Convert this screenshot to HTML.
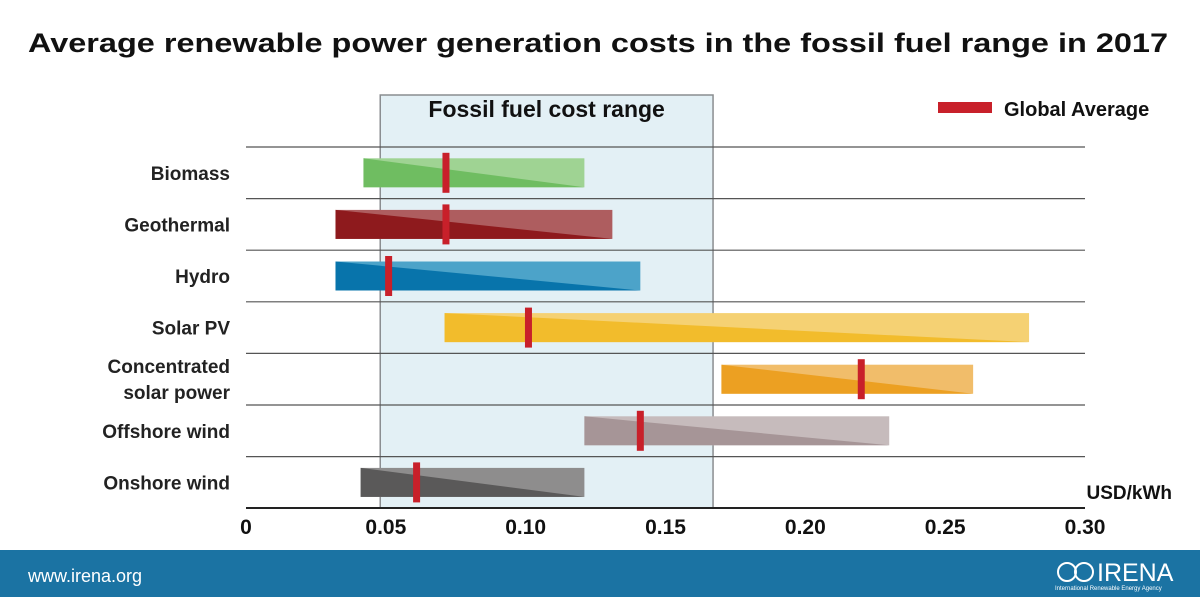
<!DOCTYPE html>
<html><head><meta charset="utf-8"><style>
body{margin:0;width:1200px;height:600px;background:#fff;overflow:hidden;font-family:"Liberation Sans",sans-serif}
svg text{font-family:"Liberation Sans",sans-serif}
</style></head><body>
<svg width="1200" height="600">
<text x="28" y="52" font-size="27" font-weight="bold" fill="#111" textLength="1140" lengthAdjust="spacingAndGlyphs">Average renewable power generation costs in the fossil fuel range in 2017</text>
<g id="plot"></g>
<rect x="0" y="550" width="1200" height="47" fill="#1b73a3"/>
<text x="28" y="582" font-size="18" fill="#fff">www.irena.org</text>
<g>
<circle cx="1067" cy="572" r="9" fill="none" stroke="#fff" stroke-width="2"/>
<circle cx="1084" cy="572" r="9" fill="none" stroke="#fff" stroke-width="2"/>
<text x="1097" y="581" font-size="25" fill="#fff">IRENA</text>
<text x="1055" y="590" font-size="6" fill="#fff">International Renewable Energy Agency</text>
</g>
</svg>
<script>
const categories=["Biomass","Geothermal","Hydro","Solar PV","Concentrated solar power","Offshore wind","Onshore wind"];
const lowValues=[0.042,0.032,0.032,0.071,0.170,0.121,0.041];
const highValues=[0.121,0.131,0.141,0.280,0.260,0.230,0.121];
const avgValues=[0.0715,0.0715,0.051,0.101,0.220,0.141,0.061];
const colors=[["#6fbd61","#9fd393"],["#8e1a1d","#ae5d5f"],["#0874ab","#4ca3c9"],["#f2bc2c","#f5d173"],["#eca022","#f1bd6a"],["#a69597","#c6bbbc"],["#5a5959","#8e8d8d"]];
const ticks=[0,0.05,0.10,0.15,0.20,0.25,0.30];
const tickLabels=["0","0.05","0.10","0.15","0.20","0.25","0.30"];
const fossilRange=[0.048,0.167];
const NS="http://www.w3.org/2000/svg";
const g=document.getElementById('plot');
const x0=246,x1=1085,vmax=0.30;
const xs=v=>x0+(x1-x0)*v/vmax;
const rowTop=147,rowH=51.6;
function mk(t,a,p){const e=document.createElementNS(NS,t);for(const k in a)e.setAttribute(k,a[k]);(p||g).appendChild(e);return e;}
let e=mk('rect',{x:xs(fossilRange[0]),y:95,width:xs(fossilRange[1])-xs(fossilRange[0]),height:508-95,fill:'#e3f0f5',stroke:'#8a8d90','stroke-width':1.5});


e=mk('text',{x:(xs(fossilRange[0])+xs(fossilRange[1]))/2,y:117,'font-size':23,'font-weight':'bold','text-anchor':'middle',fill:'#111'});e.textContent='Fossil fuel cost range';


for(let i=0;i<categories.length;i++){
 const gy=rowTop+i*rowH;
 e=mk('line',{x1:x0,x2:x1,y1:gy,y2:gy,stroke:'#555','stroke-width':1.2});
 
 
 const cy=gy+rowH/2,top=cy-14.5,bot=cy+14.5;
 const a=xs(lowValues[i]),b=xs(highValues[i]);
 e=mk('rect',{x:a,y:top,width:b-a,height:bot-top,fill:colors[i][1]});
 
 
 e=mk('polygon',{points:`${a},${top} ${b},${bot} ${a},${bot}`,fill:colors[i][0]});
 
 
 const m=xs(avgValues[i]);
 e=mk('rect',{x:m-3.5,y:cy-20,width:7,height:40,fill:'#c8202a'});
 
 
 const lines=categories[i]==="Concentrated solar power"?["Concentrated","solar power"]:[categories[i]];
 lines.forEach((l,j)=>{e=mk('text',{x:230,y:cy+7+(lines.length>1?(j?13:-13):0),'font-size':19,'font-weight':'bold','text-anchor':'end',fill:'#222'});e.textContent=l;
 
 });
}
e=mk('line',{x1:x0,x2:x1,y1:508,y2:508,stroke:'#222','stroke-width':2});


ticks.forEach((t,i)=>{e=mk('text',{x:xs(t),y:534,'font-size':21,'font-weight':'bold','text-anchor':'middle',fill:'#111'});e.textContent=tickLabels[i];

});
e=mk('text',{x:1172,y:499,'font-size':19,'font-weight':'bold','text-anchor':'end',fill:'#111'});e.textContent='USD/kWh';


e=mk('rect',{x:938,y:102,width:54,height:11,fill:'#c8202a'});


e=mk('text',{x:1004,y:116,'font-size':20,'font-weight':'bold',fill:'#111'});e.textContent='Global Average';


</script>
</body></html>
